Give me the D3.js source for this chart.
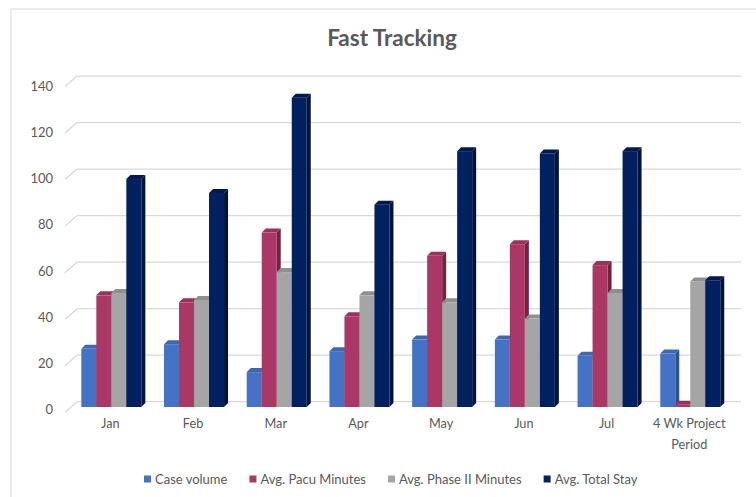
<!DOCTYPE html>
<html>
<head>
<meta charset="utf-8">
<script src="https://cdn.jsdelivr.net/npm/d3@7"></script>
<style>
  html, body { margin: 0; padding: 0; background: #fff; }
  svg { display: block; }
  text { font-family: Lato, "Open Sans", sans-serif; }
</style>
</head>
<body>
<svg id="chart" width="756" height="497"></svg>
<script>
const categories = ["Jan", "Feb", "Mar", "Apr", "May", "Jun", "Jul", "4 Wk Project Period"];
const seriesNames = ["Case volume", "Avg. Pacu Minutes", "Avg. Phase II Minutes", "Avg. Total Stay"];
const caseVolume = [25, 27, 15, 24, 29, 29, 22, 23];
const pacuMinutes = [48, 45, 75, 39, 65, 70, 61, 1];
const phaseIIMinutes = [49, 46, 58, 48, 45, 38, 49, 54];
const totalStay = [98, 92, 133, 87, 110, 109, 110, 54.5];
const yTicks = [0, 20, 40, 60, 80, 100, 120, 140];
const title = "Fast Tracking";

const seriesValues = [caseVolume, pacuMinutes, phaseIIMinutes, totalStay];
const colors = [
  { front: "#4472C4", top: "#3F68B4", side: "#2E5090" },
  { front: "#AB3767", top: "#9C315D", side: "#75223F" },
  { front: "#A5A5A5", top: "#8F8F8F", side: "#7A7A7A" },
  { front: "#002060", top: "#001A50", side: "#00133C" }
];

const svg = d3.select("#chart");

// chart border
svg.append("rect").attr("x", 11).attr("y", 9).attr("width", 760).attr("height", 500)
  .attr("fill", "#fff").attr("stroke", "#D9D9D9").attr("stroke-width", 1);

// title
svg.append("text").attr("x", 392).attr("y", 46).attr("text-anchor", "middle")
  .attr("font-size", 22.5).attr("font-weight", "bold").attr("fill", "#595959").text(title);

const baseY = 407;
const y = d3.scaleLinear().domain([0, 140]).range([baseY, baseY - 140 * 2.326]);
const yLabel = d3.scaleLinear().domain([0, 140]).range([409, 86]);

const x0 = d3.scaleBand().domain(categories).range([70, 731.6]).paddingInner(0.2745).paddingOuter(0.137);
const x1 = d3.scaleBand().domain(seriesNames).range([0, x0.bandwidth()]);

const dx = 4, dy = 4;
const gridOff = 5.3;

// gridlines (back wall) with side-wall diagonals
const grid = svg.append("g");
yTicks.forEach(t => {
  const gy = y(t) - gridOff;
  grid.append("line").attr("x1", 77).attr("x2", 741).attr("y1", gy).attr("y2", gy)
    .attr("stroke", "#D9D9D9").attr("stroke-width", 1.3);
  grid.append("line").attr("x1", 65).attr("y1", gy + 10.5).attr("x2", 77).attr("y2", gy)
    .attr("stroke", "#D9D9D9").attr("stroke-width", 1.3);
});

// y axis labels
const yAxis = d3.axisLeft(yLabel).tickValues(yTicks).tickSize(0).tickPadding(0);
const yg = svg.append("g").attr("transform", "translate(53,0)").call(yAxis);
yg.select(".domain").remove();
yg.selectAll("text").attr("font-size", 13).attr("fill", "#595959")
  .style("font-family", "Lato, 'Open Sans', sans-serif").attr("dy", "0.35em");

// bars
const bars = svg.append("g");
categories.forEach((c, ci) => {
  const g = bars.append("g");
  seriesNames.forEach((s, si) => {
    const v = seriesValues[si][ci];
    const bx = x0(c) + x1(s);
    const w = x1.bandwidth();
    const ty = y(v);
    const col = colors[si];
    g.append("polygon").attr("points", [[bx + w, ty], [bx + w + dx, ty - dy], [bx + w + dx, baseY - dy], [bx + w, baseY]].join(" "))
      .attr("fill", col.side);
    g.append("polygon").attr("points", [[bx, ty], [bx + dx, ty - dy], [bx + w + dx, ty - dy], [bx + w, ty]].join(" "))
      .attr("fill", col.top);
    g.append("rect").attr("x", bx).attr("y", ty).attr("width", w).attr("height", baseY - ty)
      .attr("fill", col.front);
  });
});

// category labels
const xAxis = d3.axisBottom(x0).tickSize(0).tickPadding(0);
const xg = svg.append("g").call(xAxis);
xg.select(".domain").remove();
xg.selectAll(".tick text").remove();
xg.selectAll(".tick").each(function(d) {
  const words = d.length > 10 ? ["4 Wk Project", "Period"] : [d];
  const t = d3.select(this).append("text").attr("text-anchor", "middle")
    .attr("font-size", 12.7).attr("fill", "#595959");
  words.forEach((wd, i) => {
    t.append("tspan").attr("x", -1).attr("y", 427.5 + i * 21).text(wd);
  });
});

// legend
const legend = svg.append("g");
let lx = 144;
seriesNames.forEach((s, si) => {
  legend.append("rect").attr("x", lx).attr("y", 475.5).attr("width", 7).attr("height", 7)
    .attr("fill", colors[si].front);
  const t = legend.append("text").attr("x", lx + 11).attr("y", 483.5)
    .attr("font-size", 13).attr("fill", "#595959").text(s);
  const tw = t.node().getComputedTextLength();
  lx = lx + 11 + tw + 22;
});
</script>
</body>
</html>
